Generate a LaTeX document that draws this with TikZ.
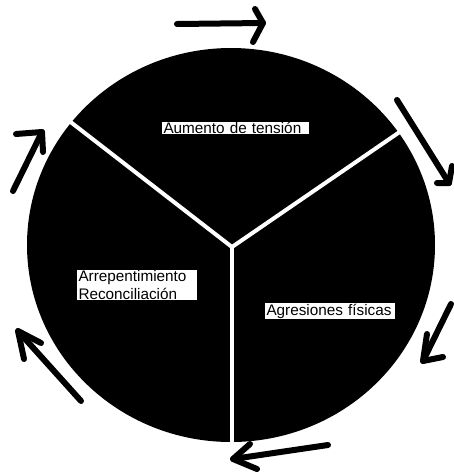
\documentclass[tikz,border=0pt]{standalone}
\usepackage{fontspec}
\setmainfont{Liberation Sans}
\hyphenpenalty=10000
\begin{document}
\begin{tikzpicture}[x=1pt,y=-1pt,
  pen/.style={line width=6pt, line cap=round, line join=round, black},
  divider/.style={white, line width=4pt},
  lab/.style={fill=white, text=black, font=\fontsize{15.3}{17.5}\selectfont, inner xsep=1.5pt, inner ysep=0.6pt, align=left}]
\useasboundingbox (0,0) rectangle (454,475);
% disc
\fill[black] (231,245) ellipse [x radius=204, y radius=197];
% dividers
\coordinate (c) at (232,247);
\coordinate (ul) at (68,120);
\coordinate (ur) at (404,129);
\coordinate (bt) at (232,444);
\draw[divider] (ul) -- (c) -- (ur);
\draw[divider] (c) -- (bt);
% labels
\node[lab, text width=144pt] (a) at (235.5,128) {Aumento de tensión};
\node[lab, text width=117pt] (r) at (137,285) {Arrepentimiento\\Reconciliación};
\node[lab, text width=127pt] (g) at (330,311) {Agresiones físicas};
% arrow 1: top
\coordinate (t0) at (177,24); \coordinate (t1) at (263,23);
\coordinate (t2) at (255,9); \coordinate (t3) at (253,42);
\draw[pen] (t0) -- (t1); \draw[pen] (t2) -- (t1) -- (t3);
% arrow 2: right upper
\coordinate (p0) at (397,100); \coordinate (p1) at (449,183);
\coordinate (p2) at (437,183); \coordinate (p3) at (452,166);
\draw[pen] (p0) -- (p1); \draw[pen] (p2) -- (p1) -- (p3);
% arrow 3: right lower
\coordinate (q0) at (451,304); \coordinate (q1) at (423,361);
\coordinate (q2) at (427,334); \coordinate (q3) at (443,357);
\draw[pen] (q0) -- (q1); \draw[pen] (q2) -- (q1) -- (q3);
% arrow 4: bottom
\coordinate (b0) at (328,445); \coordinate (b1) at (233,459);
\coordinate (b2) at (250,444); \coordinate (b3) at (257,469);
\draw[pen] (b0) -- (b1); \draw[pen] (b2) -- (b1) -- (b3);
% arrow 5: lower left
\coordinate (l0) at (81,401); \coordinate (l1) at (18,331);
\coordinate (l2) at (41,343); \coordinate (l3) at (24,359);
\draw[pen] (l0) -- (l1); \draw[pen] (l2) -- (l1) -- (l3);
% arrow 6: upper left
\coordinate (u0) at (13,191); \coordinate (u1) at (42,132);
\coordinate (u2) at (16,134); \coordinate (u3) at (43,152);
\draw[pen] (u0) -- (u1); \draw[pen] (u2) -- (u1) -- (u3);
\end{tikzpicture}
\end{document}
